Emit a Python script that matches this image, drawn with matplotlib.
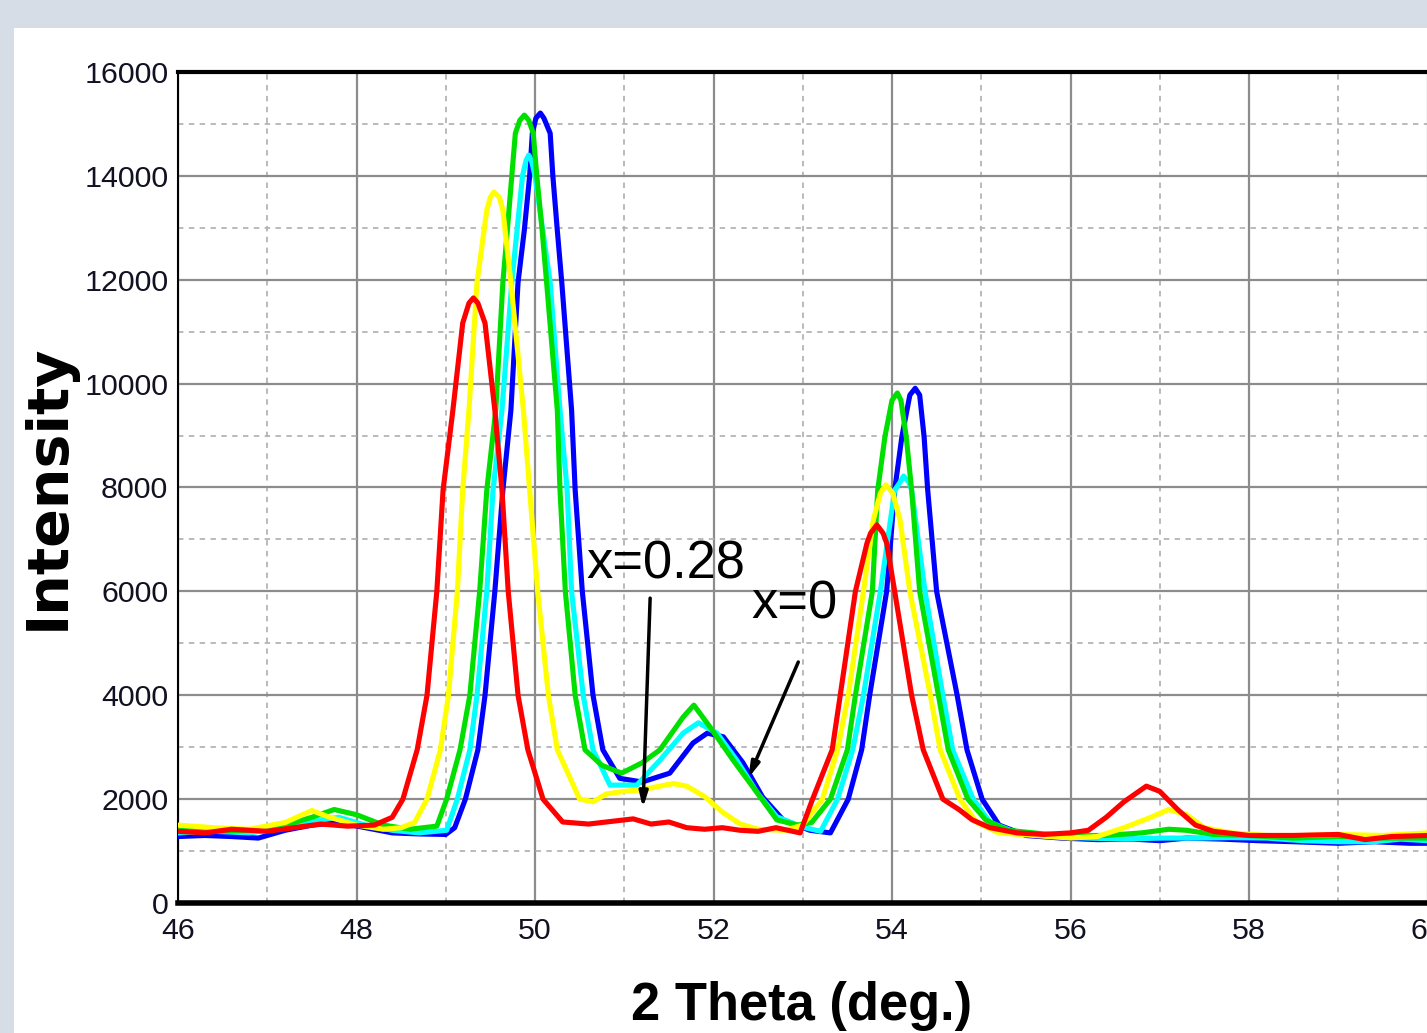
import matplotlib
matplotlib.use("Agg")
from matplotlib import pyplot as plt
from matplotlib import font_manager
from matplotlib.patches import Rectangle
from matplotlib.ticker import MultipleLocator

# 2 theta (deg.) / intensity
red_x = [46.0, 46.3, 46.6, 47.0, 47.3, 47.6, 47.9, 48.2, 48.4, 48.52, 48.68, 48.79, 48.90, 48.97,
         49.08, 49.19, 49.26, 49.31, 49.36, 49.44, 49.55, 49.63, 49.70, 49.81, 49.92, 50.09,
         50.31, 50.6, 50.9, 51.1, 51.3, 51.5, 51.7, 51.9, 52.1, 52.3, 52.5, 52.7, 52.97, 53.11,
         53.33, 53.42, 53.59, 53.72, 53.76, 53.83, 53.90, 53.94, 54.03, 54.22, 54.35, 54.57,
         54.75, 54.9, 55.1, 55.4, 55.7, 56.0, 56.2, 56.4, 56.6, 56.85, 57.0, 57.2, 57.4, 57.6,
         58.0, 58.5, 59.0, 59.3, 59.6, 60.0]
red_y = [1380, 1350, 1420, 1380, 1450, 1520, 1480, 1500, 1650, 2000, 2950, 4000, 6000, 7950,
         9490, 11165, 11550, 11650, 11550, 11165, 9490, 7950, 6000, 4000, 2950, 2000,
         1560, 1520, 1580, 1620, 1520, 1560, 1450, 1420, 1450, 1400, 1380, 1450, 1350, 2000,
         2950, 4000, 6000, 6930, 7120, 7280, 7120, 6930, 6000, 4000, 2950, 2000,
         1800, 1600, 1450, 1350, 1320, 1350, 1400, 1650, 1950, 2250, 2150, 1800, 1500, 1380,
         1300, 1300, 1320, 1220, 1280, 1300]

yellow_x = [46.0, 46.4, 46.8, 47.2, 47.5, 47.7, 48.0, 48.3, 48.5, 48.65, 48.79, 48.94, 49.03,
            49.13, 49.19, 49.26, 49.35, 49.46, 49.50, 49.54, 49.60, 49.64, 49.73, 49.87, 49.94,
            50.03, 50.15, 50.25, 50.50, 50.65, 50.8, 51.0, 51.2, 51.4, 51.55, 51.7, 51.9, 52.1,
            52.3, 52.5, 52.8, 53.0, 53.22, 53.39, 53.51, 53.68, 53.79, 53.87, 53.93, 54.01,
            54.09, 54.20, 54.43, 54.54, 54.76, 54.95, 55.2, 55.6, 56.0, 56.3, 56.6, 56.9, 57.1,
            57.3, 57.5, 57.8, 58.2, 58.6, 59.0, 59.5, 60.0]
yellow_y = [1500, 1450, 1420, 1550, 1780, 1650, 1500, 1420, 1450, 1550, 2000, 2950, 4000,
            6000, 7950, 9490, 11950, 13340, 13590, 13690, 13590, 13340, 11950, 9490, 7950,
            6000, 4000, 2950, 2000, 1950, 2100, 2150, 2180, 2250, 2300, 2250, 2050, 1750,
            1520, 1420, 1400, 1500, 2000, 2950, 4000, 6000, 7370, 7890, 8050, 7890,
            7370, 6000, 4000, 2950, 2000, 1550, 1350, 1300, 1250, 1280, 1450, 1650, 1800,
            1700, 1450, 1350, 1300, 1300, 1320, 1300, 1350]

green_x = [46.0, 46.4, 46.8, 47.2, 47.5, 47.75, 48.0, 48.3, 48.6, 48.9, 49.01, 49.16, 49.27,
           49.38, 49.46, 49.56, 49.64, 49.69, 49.74, 49.78, 49.83, 49.88, 49.93, 49.98, 50.02,
           50.08, 50.13, 50.25, 50.28, 50.34, 50.45, 50.56, 50.75, 50.97, 51.2, 51.40, 51.66,
           51.78, 51.96, 52.22, 52.49, 52.71, 52.94, 53.1, 53.31, 53.50, 53.59, 53.78, 53.84,
           53.92, 54.00, 54.06, 54.10, 54.16, 54.22, 54.31, 54.52, 54.63, 54.85, 55.05, 55.3,
           55.7, 56.0, 56.4, 56.8, 57.1, 57.3, 57.6, 58.0, 58.5, 59.0, 59.5, 60.0]
green_y = [1400, 1380, 1400, 1500, 1650, 1800, 1700, 1500, 1420, 1480, 2000, 2950, 4000,
           6000, 7950, 9490, 11950, 12950, 14000, 14820, 15070, 15170, 15070, 14820, 14000,
           12950, 11950, 9490, 7950, 6000, 4000, 2950, 2650, 2500, 2700, 2950, 3580,
           3810, 3390, 2750, 2120, 1600, 1500, 1550, 2000, 2950, 4000, 6000, 7950,
           8970, 9680, 9820, 9680, 8970, 7950, 6000, 4000, 2950, 2000, 1600, 1400,
           1330, 1300, 1300, 1350, 1420, 1400, 1320, 1300, 1250, 1280, 1250, 1250]

cyan_x = [46.0, 46.4, 46.8, 47.2, 47.6, 47.8, 48.1, 48.4, 48.7, 49.01, 49.13, 49.27, 49.35,
          49.46, 49.53, 49.63, 49.74, 49.86, 49.90, 49.93, 49.96, 50.00, 50.17, 50.28, 50.36,
          50.41, 50.54, 50.65, 50.84, 51.14, 51.40, 51.66, 51.83, 52.04, 52.26, 52.49, 52.71,
          53.00, 53.2, 53.39, 53.56, 53.68, 53.87, 54.03, 54.09, 54.13, 54.19, 54.22, 54.37,
          54.57, 54.68, 54.91, 55.1, 55.4, 55.8, 56.2, 56.6, 57.0, 57.4, 57.8, 58.2, 58.6,
          59.0, 59.4, 59.7, 60.0]
cyan_y = [1350, 1380, 1350, 1450, 1600, 1650, 1500, 1400, 1350, 1400, 2000, 2950, 4000,
          6000, 7950, 9490, 11950, 14000, 14300, 14400, 14300, 14000, 11950, 9490, 7950,
          6000, 4000, 2950, 2270, 2270, 2750, 3270, 3470, 3270, 2750, 2120, 1660,
          1460, 1380, 2000, 2950, 4000, 6000, 7950, 8100, 8220, 8100, 7950, 6000,
          4000, 2950, 2000, 1550, 1350, 1280, 1250, 1230, 1250, 1250, 1260, 1250, 1200,
          1180, 1180, 1230, 1200]

blue_x = [46.0, 46.3, 46.6, 46.9, 47.2, 47.5, 47.8, 48.1, 48.4, 48.7, 49.0, 49.1, 49.22,
          49.36, 49.44, 49.55, 49.64, 49.73, 49.81, 49.88, 49.94, 49.97, 50.01, 50.06, 50.10,
          50.17, 50.20, 50.25, 50.30, 50.41, 50.45, 50.53, 50.65, 50.76, 50.95, 51.2, 51.51,
          51.77, 51.93, 52.11, 52.33, 52.55, 52.78, 53.08, 53.31, 53.51, 53.66, 53.75, 53.94,
          54.03, 54.11, 54.20, 54.26, 54.31, 54.36, 54.40, 54.50, 54.73, 54.84, 55.01, 55.2,
          55.5, 55.9, 56.3, 56.7, 57.0, 57.3, 57.7, 58.1, 58.5, 59.0, 59.4, 59.8, 60.0]
blue_y = [1280, 1300, 1280, 1250, 1400, 1500, 1550, 1450, 1350, 1330, 1320, 1450, 2000,
          2950, 4000, 6000, 7950, 9490, 11950, 12950, 14000, 14820, 15110, 15210, 15110,
          14820, 14000, 12950, 11950, 9490, 7950, 6000, 4000, 2950, 2400, 2330, 2500,
          3080, 3270, 3200, 2700, 2040, 1600, 1400, 1350, 2000, 2950, 4000, 6000,
          7950, 8970, 9780, 9910, 9780, 8970, 7950, 6000, 4000, 2950, 2000, 1500,
          1300, 1250, 1220, 1230, 1200, 1250, 1230, 1200, 1180, 1150, 1180, 1150, 1150]

x_ticks = [46, 48, 50, 52, 54, 56, 58, 60]
y_ticks = [0, 2000, 4000, 6000, 8000, 10000, 12000, 14000, 16000]

# narrow font if there is one, else Liberation Sans a bit smaller
names = {f.name for f in font_manager.fontManager.ttflist}
if "Liberation Sans Narrow" in names:
    narrow, k = "Liberation Sans Narrow", 1.0
else:
    narrow, k = "Liberation Sans", 0.84

fig = plt.figure(figsize=(14.27, 10.33), dpi=100)
fig.patch.set_facecolor("#d6dde6")
# white panel
fig.patches.append(Rectangle((14 / 1427, 0), 1, (1033 - 28) / 1033,
                             transform=fig.transFigure, facecolor="white",
                             edgecolor="none", zorder=-5))

ax = fig.add_axes([178 / 1427, 1 - 903 / 1033, 1249.5 / 1427, 831 / 1033])
ax.set_zorder(2)
ax.set_facecolor("white")

lw = 3.7
ax.plot(blue_x, blue_y, color="#0000ff", lw=lw, zorder=3)
ax.plot(cyan_x, cyan_y, color="#00ffff", lw=lw, zorder=4)
ax.plot(green_x, green_y, color="#00e000", lw=lw, zorder=5)
ax.plot(yellow_x, yellow_y, color="#ffff00", lw=lw, zorder=6)
ax.plot(red_x, red_y, color="#ff0000", lw=lw, zorder=7)

ax.set_xlim(46, 60)
ax.set_ylim(0, 16000)
ax.set_xticks(x_ticks)
ax.set_yticks(y_ticks)
ax.xaxis.set_minor_locator(MultipleLocator(1))
ax.yaxis.set_minor_locator(MultipleLocator(1000))
ax.grid(which="major", color="#8c8c8c", lw=1.6, ls="-", zorder=1)
ax.grid(which="minor", color="#b4b4b4", lw=1.3, ls=(0, (3, 3)), zorder=1)
ax.set_axisbelow(True)

ax.tick_params(which="both", length=0)
ax.tick_params(axis="y", pad=7)
ax.tick_params(axis="x", pad=10)
for lab in ax.get_xticklabels() + ax.get_yticklabels():
    lab.set_family(narrow)
    lab.set_fontsize(26 * k)
    lab.set_color("#111122")

ax.spines["right"].set_visible(False)
ax.spines["left"].set_linewidth(1.5)
ax.spines["top"].set_linewidth(3)
ax.spines["bottom"].set_linewidth(4)

# annotations
ax.text(50.58, 6256, "x=0.28", family=narrow, fontsize=45 * k, ha="left", va="baseline", zorder=8)
ax.text(52.43, 5486, "x=0", family=narrow, fontsize=45 * k, ha="left", va="baseline", zorder=8)
ax.annotate("", xy=(51.21, 1830), xytext=(51.29, 5870),
            arrowprops=dict(arrowstyle="-|>,head_length=0.9,head_width=0.25", color="black",
                            lw=2.5, shrinkA=0, shrinkB=0), zorder=8)
ax.annotate("", xy=(52.39, 2406), xytext=(52.95, 4640),
            arrowprops=dict(arrowstyle="-|>,head_length=0.9,head_width=0.25", color="black",
                            lw=2.5, shrinkA=0, shrinkB=0), zorder=8)

fig.text(802 / 1427, 13 / 1033, "2 Theta (deg.)", family=narrow, fontweight="bold",
         fontsize=45 * k, ha="center", va="baseline")
fig.text(64 / 1427, 1 - 487 / 1033, "Intensity", family="DejaVu Sans", fontweight="bold",
         fontsize=41, rotation=90, rotation_mode="anchor", ha="center", va="baseline")

fig.savefig("out.png", dpi=100, facecolor=fig.get_facecolor())
